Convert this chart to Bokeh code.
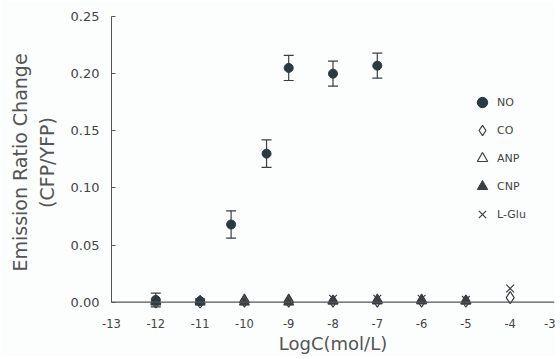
from bokeh.plotting import figure
from bokeh.models import (ColumnDataSource, Whisker, TeeHead, Span, Legend, LegendItem,
                          FixedTicker, NumeralTickFormatter, Range1d)
from bokeh.embed import file_html
from bokeh.resources import INLINE

# ---- data ----
no_x = [-12, -11, -10.3, -9.5, -9, -8, -7]
no_y = [0.002, 0.001, 0.068, 0.130, 0.205, 0.200, 0.207]
no_err = [0.006, 0.002, 0.012, 0.012, 0.011, 0.011, 0.011]

co_x = [-12, -11, -10, -9, -8, -7, -6, -5, -4]
co_y = [0.000, 0.000, 0.001, 0.001, 0.001, 0.001, 0.001, 0.001, 0.004]

anp_x = [-12, -11, -10, -9, -8, -7, -6, -5]
anp_y = [0.001, 0.001, 0.002, 0.002, 0.001, 0.002, 0.002, 0.001]

cnp_x = [-12, -11, -10, -9, -8, -7, -6, -5]
cnp_y = [0.000, 0.000, 0.000, 0.000, 0.001, 0.001, 0.001, 0.001]

glu_x = [-8, -7, -6, -5, -4]
glu_y = [0.003, 0.003, 0.003, 0.002, 0.012]

x_ticks = [-13, -12, -11, -10, -9, -8, -7, -6, -5, -4, -3]
x_tick_labels = ["-13", "-12", "-11", "-10", "-9", "-8", "-7", "-6", "-5", "-4", "-3"]
y_ticks = [0.0, 0.05, 0.10, 0.15, 0.20, 0.25]

BG = "#fcfefe"
INK = "#3a3f42"
MARK = "#2c3a40"
FONT = "DejaVu Sans"

p = figure(width=555, height=356, output_backend="svg", toolbar_location=None,
           x_range=Range1d(-13, -3), y_range=Range1d(-0.0055, 0.25),
           min_border_left=111, min_border_right=1, min_border_top=16, min_border_bottom=44,
           background_fill_color=BG, border_fill_color=BG, outline_line_color=None)
p.grid.visible = False

# axes
p.xaxis.ticker = FixedTicker(ticks=x_ticks)
p.xaxis.major_label_overrides = dict(zip(x_ticks, x_tick_labels))
p.xaxis.axis_line_color = None
p.xaxis.major_tick_line_color = None
p.xaxis.minor_tick_line_color = None
p.xaxis.major_label_standoff = 4
p.xaxis.major_label_text_font = FONT
p.xaxis.major_label_text_font_size = "11.5px"
p.xaxis.major_label_text_color = "#444444"
p.xaxis.axis_label = "LogC(mol/L)"
p.xaxis.axis_label_text_font = FONT
p.xaxis.axis_label_text_font_size = "18px"
p.xaxis.axis_label_text_font_style = "normal"
p.xaxis.axis_label_text_color = "#555555"
p.xaxis.axis_label_standoff = 2

p.yaxis.ticker = FixedTicker(ticks=y_ticks)
p.yaxis.formatter = NumeralTickFormatter(format="0.00")
p.yaxis.bounds = (0, 0.25)
p.yaxis.axis_line_color = "#555555"
p.yaxis.major_tick_line_color = "#555555"
p.yaxis.major_tick_in = 4
p.yaxis.major_tick_out = 0
p.yaxis.minor_tick_line_color = None
p.yaxis.major_label_standoff = 12
p.yaxis.major_label_text_font = FONT
p.yaxis.major_label_text_font_size = "13px"
p.yaxis.major_label_text_color = "#444444"
p.yaxis.axis_label = "Emission Ratio Change\n(CFP/YFP)"
p.yaxis.axis_label_text_font = FONT
p.yaxis.axis_label_text_font_size = "19px"
p.yaxis.axis_label_text_font_style = "normal"
p.yaxis.axis_label_text_color = "#555555"
p.yaxis.axis_label_standoff = 10

p.add_layout(Span(location=0, dimension="width", line_color="#555555", line_width=1.2))

# series
r_co = p.scatter(co_x, co_y, marker="diamond", size=12, fill_color=None,
                 line_color=INK, line_width=1.2)
r_anp = p.scatter(anp_x, anp_y, marker="triangle", size=10, fill_color=None,
                  line_color=INK, line_width=1.2)
r_cnp = p.scatter(cnp_x, cnp_y, marker="triangle", size=10, fill_color=INK,
                  line_color=INK)
r_glu = p.scatter(glu_x, glu_y, marker="x", size=11, line_color=INK, line_width=1.2)

no_src = ColumnDataSource(dict(x=no_x, y=no_y,
                               lo=[v - e for v, e in zip(no_y, no_err)],
                               hi=[v + e for v, e in zip(no_y, no_err)]))
p.add_layout(Whisker(source=no_src, base="x", lower="lo", upper="hi",
                     line_color=INK, line_width=1.2,
                     lower_head=TeeHead(size=10, line_color=INK, line_width=1.2),
                     upper_head=TeeHead(size=10, line_color=INK, line_width=1.2)))
r_no = p.scatter("x", "y", source=no_src, marker="circle", size=9,
                 fill_color=MARK, line_color=MARK)

legend = Legend(items=[LegendItem(label="NO", renderers=[r_no]),
                       LegendItem(label="CO", renderers=[r_co]),
                       LegendItem(label="ANP", renderers=[r_anp]),
                       LegendItem(label="CNP", renderers=[r_cnp]),
                       LegendItem(label="L-Glu", renderers=[r_glu])],
                location=(358, 81), padding=0, margin=0, spacing=2,
                glyph_width=26, glyph_height=26, label_height=26, label_standoff=2,
                label_text_font=FONT, label_text_font_size="11px",
                label_text_color="#444444",
                background_fill_alpha=0, border_line_color=None)
p.add_layout(legend)

open("out.html", "w").write(file_html(p, INLINE))
